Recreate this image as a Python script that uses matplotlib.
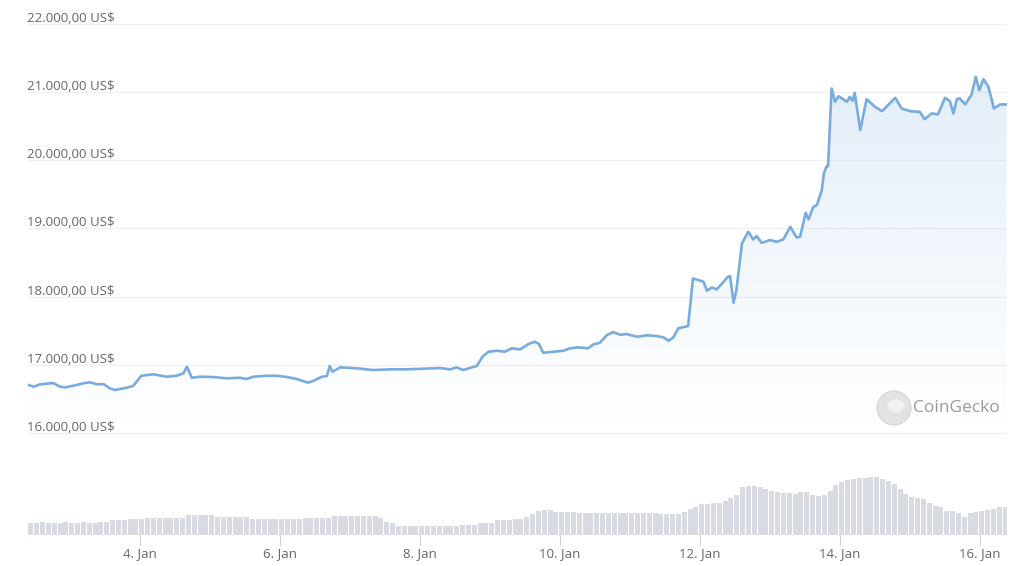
import numpy as np
import matplotlib
matplotlib.use("Agg")
import matplotlib.pyplot as plt
from matplotlib.patches import Ellipse

# price line (day of January 2023, US$)
price_days = [
    2.38, 2.48, 2.57, 2.76, 2.86, 2.93, 3.05, 3.19, 3.29, 3.38, 3.48, 3.57, 3.64, 3.81, 3.90,
    4.02, 4.19, 4.38, 4.52, 4.62, 4.67, 4.74, 4.86, 5.05, 5.24, 5.43, 5.52, 5.62, 5.81, 5.95,
    6.10, 6.24, 6.40, 6.48, 6.60, 6.67, 6.71, 6.75, 6.86, 7.10, 7.33, 7.57, 7.81, 8.05, 8.29,
    8.43, 8.52, 8.62, 8.74, 8.81, 8.90, 8.98, 9.10, 9.21, 9.31, 9.43, 9.55, 9.64, 9.70, 9.76,
    9.90, 10.05, 10.14, 10.26, 10.40, 10.48, 10.57, 10.67, 10.76, 10.86, 10.95, 11.10, 11.24,
    11.38, 11.48, 11.55, 11.62, 11.69, 11.83, 11.90, 12.05, 12.10, 12.17, 12.24, 12.40, 12.43,
    12.48, 12.52, 12.60, 12.69, 12.76, 12.81, 12.88, 13.00, 13.10, 13.19, 13.29, 13.38, 13.43,
    13.51, 13.55, 13.62, 13.67, 13.74, 13.77, 13.81, 13.83, 13.88, 13.93, 13.98, 14.10, 14.14,
    14.18, 14.21, 14.29, 14.38, 14.50, 14.60, 14.71, 14.79, 14.88, 15.00, 15.14, 15.21, 15.31,
    15.40, 15.50, 15.57, 15.62, 15.67, 15.71, 15.79, 15.88, 15.94, 15.99, 16.05, 16.12, 16.20,
    16.29, 16.38,
]
price_usd = [
    16714, 16679, 16714, 16733, 16679, 16670, 16694, 16729, 16743, 16714, 16718, 16655, 16631, 16664, 16689,
    16840, 16861, 16826, 16840, 16875, 16972, 16811, 16826, 16821, 16802, 16811, 16792, 16826, 16840, 16840,
    16821, 16792, 16738, 16767, 16826, 16836, 16982, 16899, 16963, 16949, 16924, 16934, 16934, 16943, 16953,
    16934, 16963, 16924, 16963, 16982, 17129, 17192, 17207, 17192, 17242, 17227, 17305, 17339, 17305, 17177,
    17192, 17207, 17242, 17257, 17242, 17301, 17324, 17437, 17481, 17441, 17452, 17412, 17433,
    17422, 17403, 17353, 17403, 17535, 17569, 18268, 18219, 18087, 18136, 18107, 18292, 18302,
    17911, 18097, 18782, 18952, 18840, 18889, 18790, 18830, 18805, 18840, 19025, 18870, 18878,
    19230, 19134, 19318, 19343, 19563, 19808, 19915, 19915, 21054, 20858, 20941, 20858, 20931,
    20872, 20990, 20443, 20897, 20785, 20721, 20834, 20917, 20761, 20721, 20711, 20604, 20688,
    20673, 20917, 20868, 20688, 20897, 20908, 20820, 20966, 21224, 21029, 21191, 21078, 20761,
    20820, 20820,
]

# trading volume, one bar per 2 hours from 2.4 Jan (relative units)
volume_start = 2.4
volume = [
    12, 12, 13, 12, 12, 12, 13, 12, 12, 13, 12, 12, 13, 13, 15, 15, 15, 16, 16, 16,
    17, 17, 17, 17, 17, 17, 17, 20, 20, 20, 20, 20, 18, 18, 18, 18, 18, 18, 16, 16,
    16, 16, 16, 16, 16, 16, 16, 17, 17, 17, 17, 17, 19, 19, 19, 19, 19, 19, 19, 19,
    17, 13, 12, 9, 9, 9, 9, 9, 9, 9, 9, 9, 9, 9, 10, 10, 10, 12, 12, 12,
    15, 15, 15, 16, 16, 18, 21, 24, 25, 25, 23, 23, 23, 23, 22, 22, 22, 22, 22, 22,
    22, 22, 22, 22, 22, 22, 22, 22, 21, 21, 21, 21, 23, 26, 28, 31, 31, 32, 32, 34,
    37, 40, 48, 49, 49, 48, 46, 44, 43, 42, 42, 41, 43, 43, 40, 39, 40, 44, 50, 53,
    55, 56, 57, 57, 58, 58, 56, 54, 51, 46, 41, 38, 37, 36, 32, 29, 28, 24, 24, 22,
    18, 22, 23, 24, 25, 26, 28, 28,
]

y_ticks = [16000, 17000, 18000, 19000, 20000, 21000, 22000]
x_ticks = [4, 6, 8, 10, 12, 14, 16]
x_labels = ["4. Jan", "6. Jan", "8. Jan", "10. Jan", "12. Jan", "14. Jan", "16. Jan"]

line_color = "#78abde"
bar_color = "#d9dbe3"
label_color = "#666666"
plt.rcParams["font.family"] = ["Open Sans", "DejaVu Sans"]


def usd_label(v):
    s = f"{v:,.2f}".replace(",", "X").replace(".", ",").replace("X", ".")
    return s + " US$"


fig = plt.figure(figsize=(10.24, 5.66), dpi=100)
ax = fig.add_axes([28 / 1024, 31 / 566, 979 / 1024, 525 / 566])
x_lo, x_hi = 2.4, 16.386
y_lo, y_hi = 14504, 22205

# gradient fill under the price line
fill = ax.fill_between(price_days, price_usd, y_lo, color="none", lw=0)
ys = np.linspace(y_lo, y_hi, 300)
alpha = np.clip((ys - 16000) / (21300 - 16000), 0, 1) * 0.17
rgba = np.zeros((300, 1, 4))
rgba[..., :3] = matplotlib.colors.to_rgb("#5b9bdc")
rgba[:, 0, 3] = alpha
grad = ax.imshow(rgba, extent=[x_lo, x_hi, y_lo, y_hi], aspect="auto", origin="lower", zorder=1)
grad.set_clip_path(fill.get_paths()[0], transform=ax.transData)

ax.plot(price_days, price_usd, color=line_color, lw=1.9, zorder=3, solid_joinstyle="round")

for v in y_ticks:
    ax.axhline(v, color="#f0f0f0", lw=0.9, zorder=0)
    ax.annotate(usd_label(v), xy=(0, v), xycoords=("axes fraction", "data"),
                xytext=(-1, 4), textcoords="offset points", ha="left", va="center",
                fontsize=9.5, color=label_color, zorder=4)

ax.set_xlim(x_lo, x_hi)
ax.set_ylim(y_lo, y_hi)
ax.set_yticks([])
ax.set_xticks(x_ticks)
ax.set_xticklabels(x_labels, fontsize=9.5, color=label_color)
ax.tick_params(axis="x", length=7, width=0.8, color="#d0d0d0", pad=2)
for s in ax.spines.values():
    s.set_visible(False)

# volume bars in their own scale at the bottom
vx = ax.twinx()
vol_days = volume_start + (np.arange(len(volume)) + 0.5) / 12
vx.bar(vol_days, volume, width=1 / 12 * 0.84, color=bar_color, lw=0, zorder=2)
vx.set_ylim(0, 525)
vx.set_yticks([])
for s in vx.spines.values():
    s.set_visible(False)
vx.set_xlim(x_lo, x_hi)

# CoinGecko watermark
wx, wy = 894 / 1024, (566 - 408) / 566
fig.patches.append(Ellipse((wx, wy), 34 / 1024, 34 / 566, transform=fig.transFigure,
                           facecolor="#e2e2e2", edgecolor="#d4d4d4", lw=0.8))
fig.patches.append(Ellipse((wx + 2 / 1024, wy + 2 / 566), 17 / 1024, 13 / 566,
                           transform=fig.transFigure, facecolor="#f2f2f2", lw=0))
fig.text(913 / 1024, wy, "CoinGecko", fontsize=12.5, color="#9a9a9a", ha="left", va="center")

fig.savefig("out.png", dpi=100, facecolor="white")
